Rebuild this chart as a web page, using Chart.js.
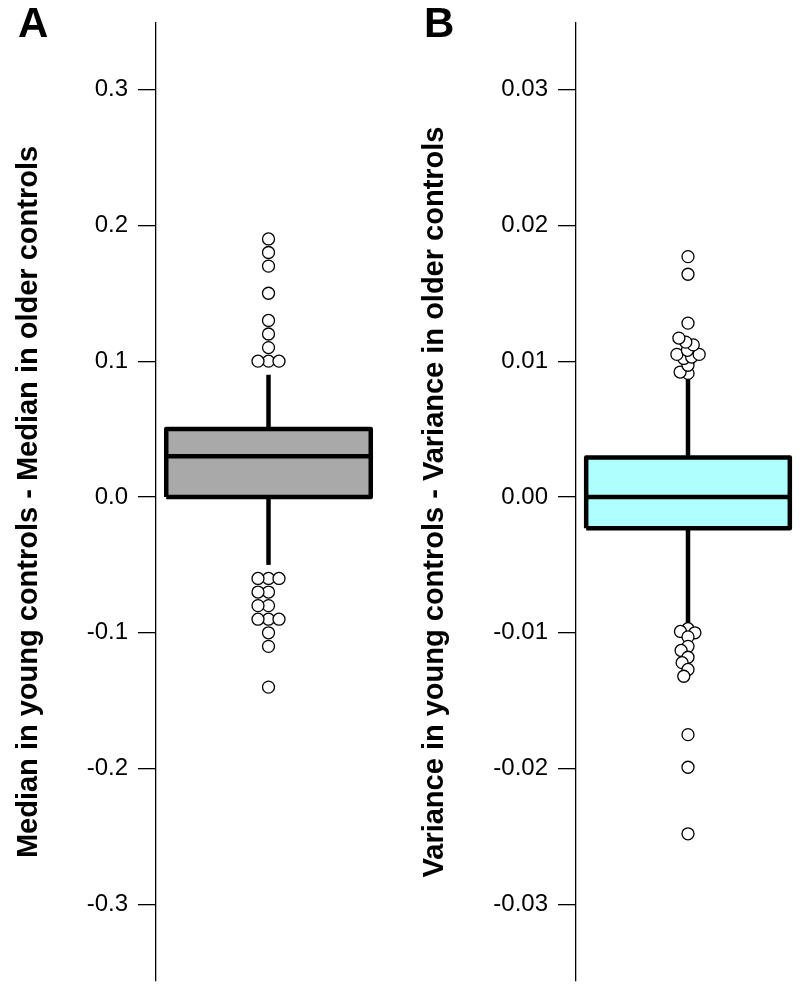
<!DOCTYPE html>
<html>
<head>
<meta charset="utf-8">
<script src="https://cdn.jsdelivr.net/npm/chart.js@4.4.1/dist/chart.umd.min.js"></script>
<style>
  html, body { margin: 0; padding: 0; background: #ffffff; }
  #wrap { position: relative; width: 800px; height: 991px; overflow: hidden; }
  .panel { position: absolute; top: 0; width: 400px; height: 991px; }
  .letter { position: absolute; top: 2px; font-family: "Liberation Sans", Arial, sans-serif; font-weight: bold; font-size: 42px; line-height: 1; color: #000; }
</style>
</head>
<body>
<div id="wrap">
  <div class="panel" style="left:0px"><canvas id="chartA" width="400" height="991"></canvas></div>
  <div class="panel" style="left:400px"><canvas id="chartB" width="400" height="991"></canvas></div>
  <div class="letter" style="left:18px">A</div>
  <div class="letter" style="left:424px">B</div>
</div>
<script>
// ---- data ----
// five numbers: lower whisker, Q1, median, Q3, upper whisker
const fiveNumA = [-0.05, 0.0, 0.03, 0.05, 0.09];
const outliersA = [0.10, 0.10, 0.10, 0.11, 0.12, 0.13, 0.15, 0.17, 0.18, 0.19,
                   -0.06, -0.06, -0.06, -0.07, -0.07, -0.08, -0.08, -0.09, -0.09, -0.09, -0.10, -0.11, -0.14];
const fiveNumB = [-0.0093, -0.0023, 0.0, 0.0029, 0.0090];
const outliersB = [0.0091, 0.0092, 0.0097, 0.0102, 0.0103, 0.0105, 0.0105, 0.0108, 0.0112, 0.0114, 0.0117, 0.0128, 0.0164, 0.0177,
                   -0.0097, -0.0099, -0.0100, -0.0103, -0.0110, -0.0113, -0.0118, -0.0122, -0.0127, -0.0132, -0.0175, -0.0199, -0.0248];
const ticksA = [-0.3, -0.2, -0.1, 0.0, 0.1, 0.2, 0.3];
const ticksB = [-0.03, -0.02, -0.01, 0.00, 0.01, 0.02, 0.03];
const titleA = "Median in young controls - Median in older controls";
const titleB = "Variance in young controls - Variance in older controls";

const FONT = "'Liberation Sans', Arial, sans-serif";
const HALF = 0.5;

function boxDatasets(five, fillColor) {
  const [lo, q1, med, q3, hi] = five;
  const lineCommon = { borderColor: '#000', borderWidth: 4.5, pointRadius: 0, fill: false, tension: 0, borderCapStyle: 'butt', borderJoinStyle: 'round' };
  return [
    { label: 'fill', data: [{x: -HALF, y: q3}, {x: HALF, y: q3}], fill: {value: q1}, backgroundColor: fillColor, borderWidth: 0, pointRadius: 0, order: 10 },
    Object.assign({ label: 'box', data: [{x:-HALF,y:q1},{x:-HALF,y:q3},{x:HALF,y:q3},{x:HALF,y:q1},{x:-HALF,y:q1}], order: 5 }, lineCommon),
    Object.assign({ label: 'median', data: [{x:-HALF,y:med},{x:HALF,y:med}], order: 5 }, lineCommon),
    Object.assign({ label: 'whiskerHi', data: [{x:0,y:q3},{x:0,y:hi}], order: 6 }, lineCommon),
    Object.assign({ label: 'whiskerLo', data: [{x:0,y:lo},{x:0,y:q1}], order: 6 }, lineCommon)
  ];
}

function makeChart(id, five, outliers, fillColor, ticks, decimals, yMin, yMax, title, axisWidth, titlePad, padRight) {
  const ctx = document.getElementById(id);
  const datasets = boxDatasets(five, fillColor);
  datasets.push({
    label: 'outliers', data: outliers.map(v => ({x: 0, y: v})), showLine: false,
    pointRadius: 6, pointBorderWidth: 1.3, pointBackgroundColor: '#fff', pointBorderColor: '#000', order: 0
  });
  return new Chart(ctx, {
    type: 'line',
    data: { datasets },
    options: {
      responsive: false,
      devicePixelRatio: 1,
      animation: false,
      layout: { autoPadding: false, padding: { top: 23, bottom: 10, left: 0, right: padRight } },
      plugins: { legend: { display: false }, tooltip: { enabled: false } },
      scales: {
        x: { type: 'linear', min: -0.55, max: 0.55, display: false },
        y: {
          type: 'linear', min: yMin, max: yMax,
          afterBuildTicks: axis => { axis.ticks = ticks.map(v => ({ value: v })); },
          afterFit: axis => { axis.width = axisWidth; axis.paddingTop = 0; axis.paddingBottom = 0; },
          border: { display: true, color: '#000', width: 1.3 },
          grid: { drawOnChartArea: false, drawTicks: true, tickLength: 18, color: '#000', lineWidth: 1.3 },
          ticks: { color: '#000', padding: 10, font: { family: FONT, size: 24 },
                   callback: v => Number(v).toFixed(decimals) },
          title: { display: true, text: title, color: '#000', padding: { top: titlePad, bottom: 0 },
                   font: { family: FONT, size: 29, weight: 'bold' } }
        }
      }
    }
  });
}

// beeswarm placement of outliers, computed in pixel space from the library's scales
function swarm(chart, spacing) {
  const ds = chart.data.datasets[chart.data.datasets.length - 1];
  const ys = chart.scales.y, xs = chart.scales.x;
  const x0 = xs.getPixelForValue(0);
  const placed = [];
  ds.data = ds.data.map(pt => {
    const py = ys.getPixelForValue(pt.y);
    const cands = [0];
    placed.forEach(p => {
      const dy = Math.abs(p.y - py);
      if (dy < spacing) {
        const dx = Math.sqrt(spacing * spacing - dy * dy);
        cands.push(p.x - dx, p.x + dx);
      }
    });
    cands.sort((a, b) => Math.abs(a) - Math.abs(b) || a - b);
    const best = cands.find(c => placed.every(p => (p.x - c) ** 2 + (p.y - py) ** 2 >= spacing * spacing - 1e-6));
    placed.push({ x: best, y: py });
    return { x: xs.getValueForPixel(x0 + best), y: pt.y };
  });
  chart.update('none');
}

const chartA = makeChart('chartA', fiveNumA, outliersA, '#A9A9A9', ticksA, 1, -0.3564, 0.3490, titleA, 156, 12, 19);
const chartB = makeChart('chartB', fiveNumB, outliersB, '#AEFFFF', ticksB, 2, -0.03564, 0.03490, titleB, 176, 18, 0);
swarm(chartA, 10.5);
swarm(chartB, 8);
</script>
</body>
</html>
